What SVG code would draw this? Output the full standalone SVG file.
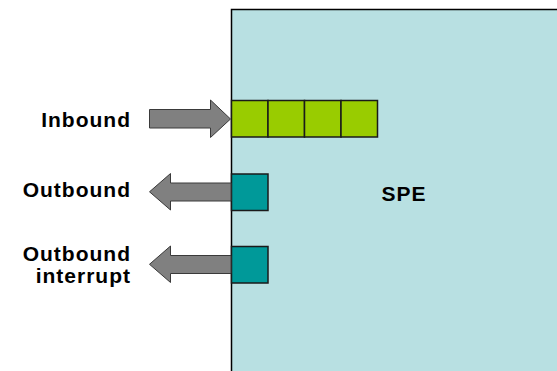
<svg xmlns="http://www.w3.org/2000/svg" width="557" height="371" viewBox="0 0 557 371">
<style>
.lbl{font-family:"Liberation Sans",Arial,sans-serif;font-weight:bold;font-size:21px;letter-spacing:1px;fill:#000}
.arr{fill:#808080;stroke:#3a3a3a;stroke-width:1}
.cell{fill:#99CC00;stroke:#1a1a1a;stroke-width:1.5}
.teal{fill:#009999;stroke:#1a1a1a;stroke-width:1.5}
</style>
<rect width="557" height="371" fill="#fff"/>
<g id="spe">
<rect x="231.5" y="9.5" width="340" height="380" fill="#B8E0E2" stroke="#000" stroke-width="1.5"/>
<text class="lbl" x="404" y="201" text-anchor="middle">SPE</text>
</g>
<g id="inbound-queue">
<rect class="cell" x="231.5" y="100.5" width="36.5" height="36.5"/>
<rect class="cell" x="268" y="100.5" width="36.5" height="36.5"/>
<rect class="cell" x="304.5" y="100.5" width="36.5" height="36.5"/>
<rect class="cell" x="341" y="100.5" width="36.5" height="36.5"/>
</g>
<g id="outbound-box"><rect class="teal" x="231.5" y="174" width="36.5" height="36.5"/></g>
<g id="interrupt-box"><rect class="teal" x="231.5" y="246.5" width="36.5" height="36.5"/></g>
<g id="connectors">
<path class="arr" d="M149.5,109.5 H210.5 V100 L230.5,119 L210.5,137.5 V128 H149.5 Z"/>
<path class="arr" d="M231,183 H170.5 V173.5 L149.5,191.8 L170.5,210 V201 H231 Z"/>
<path class="arr" d="M231,255.5 H170.5 V246 L149.5,264.3 L170.5,282.5 V273.5 H231 Z"/>
</g>
<g id="labels">
<text class="lbl" x="131" y="127" text-anchor="end">Inbound</text>
<text class="lbl" x="131" y="197" text-anchor="end">Outbound</text>
<text class="lbl" x="131" y="261" text-anchor="end">Outbound</text>
<text class="lbl" x="131" y="283" text-anchor="end">interrupt</text>
</g>
</svg>
